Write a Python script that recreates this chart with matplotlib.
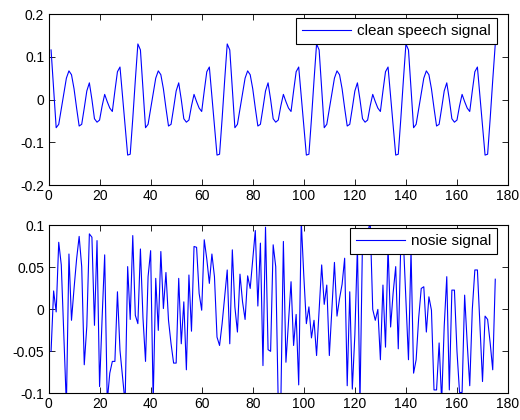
# Import dependencies
import numpy as np
import matplotlib
matplotlib.use("Agg")
import matplotlib.pyplot as plt
from matplotlib.ticker import FixedLocator, FixedFormatter

plt.rcParams["font.family"] = ["Liberation Sans", "DejaVu Sans"]

# input: clean speech signal (one value per sample, 1..175)
clean = [
    0.116, 0.025, -0.066, -0.058, -0.022, 0.015, 0.050, 0.067, 0.058, 0.025,
    -0.020, -0.062, -0.058, -0.020, 0.020, 0.039, 0.000, -0.045, -0.053, -0.048,
    -0.015, 0.012, -0.005, -0.020, -0.028, 0.020, 0.065, 0.076, 0.007, -0.062,
    -0.130, -0.128, -0.045, 0.045, 0.130,
    0.116, 0.025, -0.066, -0.058, -0.022, 0.015, 0.050, 0.067, 0.058, 0.025,
    -0.020, -0.062, -0.058, -0.020, 0.020, 0.039, 0.000, -0.045, -0.053, -0.048,
    -0.015, 0.012, -0.005, -0.020, -0.028, 0.020, 0.065, 0.076, 0.007, -0.062,
    -0.130, -0.128, -0.045, 0.045, 0.130,
    0.116, 0.025, -0.066, -0.058, -0.022, 0.015, 0.050, 0.067, 0.058, 0.025,
    -0.020, -0.062, -0.058, -0.020, 0.020, 0.039, 0.000, -0.045, -0.053, -0.048,
    -0.015, 0.012, -0.005, -0.020, -0.028, 0.020, 0.065, 0.076, 0.007, -0.062,
    -0.130, -0.128, -0.045, 0.045, 0.130,
    0.116, 0.025, -0.066, -0.058, -0.022, 0.015, 0.050, 0.067, 0.058, 0.025,
    -0.020, -0.062, -0.058, -0.020, 0.020, 0.039, 0.000, -0.045, -0.053, -0.048,
    -0.015, 0.012, -0.005, -0.020, -0.028, 0.020, 0.065, 0.076, 0.007, -0.062,
    -0.130, -0.128, -0.045, 0.045, 0.130,
    0.116, 0.025, -0.066, -0.058, -0.022, 0.015, 0.050, 0.067, 0.058, 0.025,
    -0.020, -0.062, -0.058, -0.020, 0.020, 0.039, 0.000, -0.045, -0.053, -0.048,
    -0.015, 0.012, -0.005, -0.020, -0.028, 0.020, 0.065, 0.076, 0.007, -0.062,
    -0.130, -0.128, -0.045, 0.045, 0.130,
]

# noise signal (values beyond +-0.1 get clipped by the axes)
noise = [
    -0.050, 0.022, -0.003, 0.080, 0.053, -0.030, -0.115, 0.066, -0.013, 0.025,
    0.060, 0.087, 0.051, -0.066, -0.020, 0.090, 0.086, -0.019, 0.082, -0.092,
    -0.010, 0.065, -0.110, -0.076, -0.062, -0.062, 0.021, -0.049, -0.080, -0.112,
    0.051, -0.012, 0.088, -0.007, -0.017, 0.072, -0.010, -0.062, 0.039, 0.070,
    -0.110, 0.037, -0.025, 0.069, 0.001, 0.044, -0.013, -0.041, -0.064, -0.064,
    0.037, -0.041, 0.009, -0.072, 0.041, -0.026, 0.075, 0.074, 0.019, -0.001,
    0.083, 0.060, 0.031, 0.066, 0.039, -0.033, -0.043, -0.017, 0.015, 0.047,
    -0.041, 0.071, 0.003, -0.027, 0.042, 0.009, -0.012, 0.040, 0.025, 0.059,
    0.094, 0.004, 0.079, -0.067, 0.098, -0.048, -0.050, 0.077, 0.051, -0.115,
    -0.112, 0.081, -0.063, -0.015, 0.033, -0.043, -0.006, -0.090, 0.105, 0.040,
    -0.017, 0.003, -0.034, -0.013, -0.055, 0.000, 0.053, 0.006, 0.029, -0.055,
    0.000, 0.056, -0.008, 0.013, 0.030, 0.061, -0.091, 0.021, -0.095, -0.030,
    0.075, -0.112, 0.085, 0.070, 0.090, 0.105, 0.000, -0.013, 0.000, -0.060,
    0.029, -0.045, 0.075, -0.021, 0.020, 0.051, -0.047, 0.080, 0.082, 0.010,
    -0.060, 0.070, -0.076, -0.060, -0.010, 0.025, 0.027, -0.027, 0.015, -0.001,
    -0.096, -0.096, -0.040, -0.110, -0.020, 0.039, -0.096, 0.023, 0.023, -0.050,
    -0.099, -0.099, 0.017, -0.040, -0.091, 0.000, 0.047, 0.047, -0.020, -0.086,
    -0.008, -0.012, -0.040, -0.072, 0.036,
]

x_ticks = [0, 20, 40, 60, 80, 100, 120, 140, 160, 180]
top_yticks = [-0.2, -0.1, 0, 0.1, 0.2]
top_ylabels = ["-0.2", "-0.1", "0", "0.1", "0.2"]
bot_yticks = [-0.1, -0.05, 0, 0.05, 0.1]
bot_ylabels = ["-0.1", "-0.05", "0", "0.05", "0.1"]

samples = np.arange(1, len(clean) + 1)
FS = 10


def matlab_axes(ax, yticks, ylabels):
    ax.set_xlim(0, 180)
    ax.xaxis.set_major_locator(FixedLocator(x_ticks))
    ax.yaxis.set_major_locator(FixedLocator(yticks))
    ax.yaxis.set_major_formatter(FixedFormatter(ylabels))
    ax.tick_params(direction="in", top=True, right=True, length=4,
                   width=0.6, labelsize=FS, pad=3)
    for s in ax.spines.values():
        s.set_linewidth(0.8)


def matlab_legend(ax, anchor):
    leg = ax.legend(loc="upper right", bbox_to_anchor=anchor, borderaxespad=0,
                    fancybox=False, framealpha=1, edgecolor="black", fontsize=11,
                    handlelength=3.2, borderpad=0.4, handletextpad=0.4)
    leg.get_frame().set_linewidth(0.8)
    return leg


fig = plt.figure(figsize=(5.2, 4.2), dpi=100)

ax1 = fig.add_axes([0.0933, 0.5595, 0.8837, 0.4071])
ax1.plot(samples, clean, color="blue", linewidth=0.8, label="clean speech signal")
ax1.set_ylim(-0.2, 0.2)
matlab_axes(ax1, top_yticks, top_ylabels)
matlab_legend(ax1, (0.976, 0.977))

ax2 = fig.add_axes([0.0933, 0.0636, 0.8837, 0.3995])
ax2.plot(np.arange(1, len(noise) + 1), noise, color="blue", linewidth=0.8,
         label="nosie signal")
ax2.set_ylim(-0.1, 0.1)
matlab_axes(ax2, bot_yticks, bot_ylabels)
matlab_legend(ax2, (0.976, 0.985))

fig.savefig("out.png", dpi=100)
